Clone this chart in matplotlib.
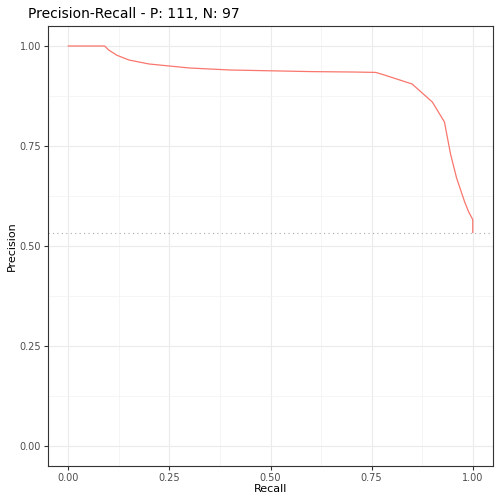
import matplotlib
matplotlib.use("Agg")
import matplotlib.pyplot as plt

recall = [0.0, 0.09, 0.10, 0.12, 0.15, 0.20, 0.25, 0.30, 0.40, 0.50, 0.60, 0.70, 0.76, 0.78, 0.85, 0.90, 0.93, 0.945, 0.96, 0.98, 0.99, 1.0, 1.0]
precision = [1.0, 1.0, 0.99, 0.977, 0.965, 0.955, 0.95, 0.945, 0.94, 0.938, 0.936, 0.935, 0.934, 0.928, 0.905, 0.86, 0.81, 0.73, 0.67, 0.61, 0.585, 0.566, 0.534]
baseline = 111 / 208
ticks = [0.0, 0.25, 0.5, 0.75, 1.0]
ticklabels = ["0.00", "0.25", "0.50", "0.75", "1.00"]

fig = plt.figure(figsize=(5.04, 5.04), dpi=100)
ax = fig.add_axes([48/504, 38/504, 445/504, 440/504])
ax.plot(recall, precision, color="#F8766D", lw=0.9)
ax.axhline(baseline, color="#aaaaaa", ls=(0, (1, 3)), lw=0.8)
ax.set_xlim(-0.05, 1.05)
ax.set_ylim(-0.05, 1.05)
ax.set_xticks(ticks); ax.set_xticklabels(ticklabels)
ax.set_yticks(ticks); ax.set_yticklabels(ticklabels)
minor = [0.125, 0.375, 0.625, 0.875]
ax.set_xticks(minor, minor=True); ax.set_yticks(minor, minor=True)
ax.grid(True, which="major", color="#ebebeb", lw=0.8)
ax.grid(True, which="minor", color="#f2f2f2", lw=0.5)
ax.tick_params(which="minor", length=0)
ax.tick_params(which="major", length=3, color="#333333", labelsize=7, labelcolor="#4d4d4d", pad=2)
for s in ax.spines.values():
    s.set_color("#333333"); s.set_linewidth(0.8)
ax.set_axisbelow(True)
ax.set_xlabel("Recall", fontsize=8, labelpad=1)
ax.set_ylabel("Precision", fontsize=8, labelpad=2)
ax.set_title("Precision-Recall - P: 111, N: 97", fontsize=10, loc="left", x=-0.045, pad=6)
fig.savefig("out.png", dpi=100)
